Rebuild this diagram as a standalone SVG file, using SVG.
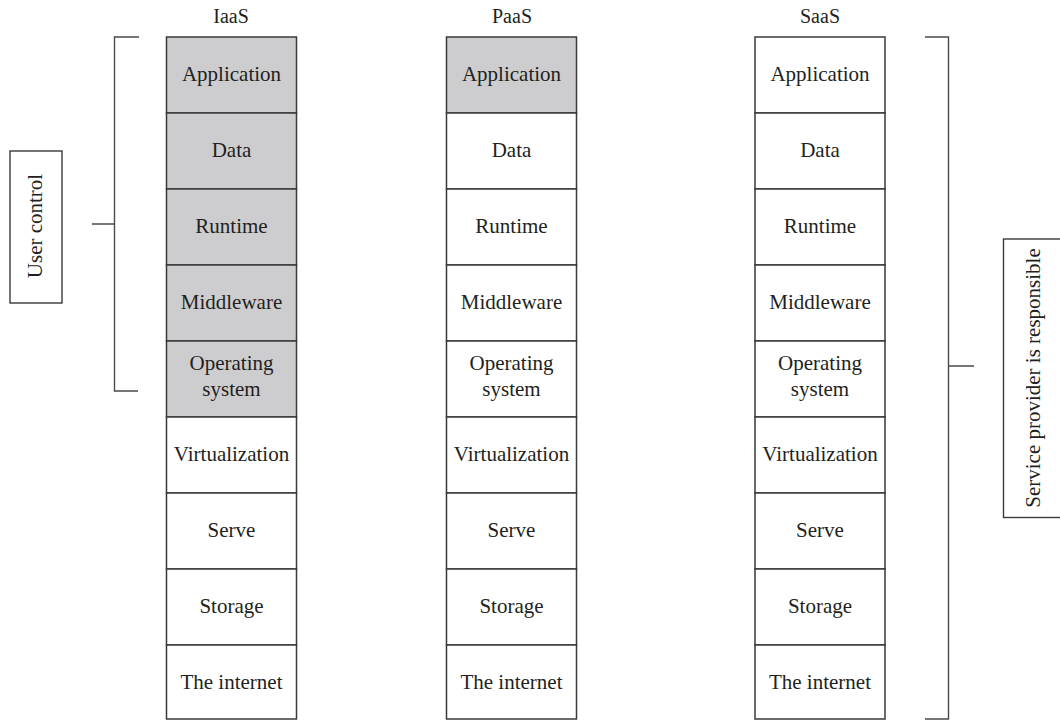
<svg xmlns="http://www.w3.org/2000/svg" width="1060" height="720" viewBox="0 0 1060 720">
<style>
text{font-family:"Liberation Serif","Times New Roman",serif;font-size:21px;fill:#231f20;text-anchor:middle}
.t{font-size:20px}
.c{fill:#ffffff;stroke:#3a3a3a;stroke-width:1.5}
.g{fill:#cdcdcf;stroke:#3a3a3a;stroke-width:1.5}
.br{fill:none;stroke:#4a4a4a;stroke-width:1.4}
.lbl{fill:#ffffff;stroke:#3a3a3a;stroke-width:1.4}
</style>
<rect width="1060" height="720" fill="#ffffff"/>
<g id="titles">
<text class="t" x="231" y="23">IaaS</text>
<text class="t" x="512" y="23">PaaS</text>
<text class="t" x="820" y="23">SaaS</text>
</g>
<g id="iaas">
<g id="iaas-application"><rect class="g" x="166.5" y="37" width="130" height="76"/><text x="231.5" y="81">Application</text></g>
<g id="iaas-data"><rect class="g" x="166.5" y="113" width="130" height="76"/><text x="231.5" y="157">Data</text></g>
<g id="iaas-runtime"><rect class="g" x="166.5" y="189" width="130" height="76"/><text x="231.5" y="233">Runtime</text></g>
<g id="iaas-middleware"><rect class="g" x="166.5" y="265" width="130" height="76"/><text x="231.5" y="309">Middleware</text></g>
<g id="iaas-os"><rect class="g" x="166.5" y="341" width="130" height="76"/><text x="231.5" y="370">Operating</text><text x="231.5" y="396">system</text></g>
<g id="iaas-virtualization"><rect class="c" x="166.5" y="417" width="130" height="76"/><text x="231.5" y="461">Virtualization</text></g>
<g id="iaas-serve"><rect class="c" x="166.5" y="493" width="130" height="76"/><text x="231.5" y="537">Serve</text></g>
<g id="iaas-storage"><rect class="c" x="166.5" y="569" width="130" height="76"/><text x="231.5" y="613">Storage</text></g>
<g id="iaas-internet"><rect class="c" x="166.5" y="645" width="130" height="74"/><text x="231.5" y="689">The internet</text></g>
</g>
<g id="paas">
<g id="paas-application"><rect class="g" x="446.5" y="37" width="130" height="76"/><text x="511.5" y="81">Application</text></g>
<g id="paas-data"><rect class="c" x="446.5" y="113" width="130" height="76"/><text x="511.5" y="157">Data</text></g>
<g id="paas-runtime"><rect class="c" x="446.5" y="189" width="130" height="76"/><text x="511.5" y="233">Runtime</text></g>
<g id="paas-middleware"><rect class="c" x="446.5" y="265" width="130" height="76"/><text x="511.5" y="309">Middleware</text></g>
<g id="paas-os"><rect class="c" x="446.5" y="341" width="130" height="76"/><text x="511.5" y="370">Operating</text><text x="511.5" y="396">system</text></g>
<g id="paas-virtualization"><rect class="c" x="446.5" y="417" width="130" height="76"/><text x="511.5" y="461">Virtualization</text></g>
<g id="paas-serve"><rect class="c" x="446.5" y="493" width="130" height="76"/><text x="511.5" y="537">Serve</text></g>
<g id="paas-storage"><rect class="c" x="446.5" y="569" width="130" height="76"/><text x="511.5" y="613">Storage</text></g>
<g id="paas-internet"><rect class="c" x="446.5" y="645" width="130" height="74"/><text x="511.5" y="689">The internet</text></g>
</g>
<g id="saas">
<g id="saas-application"><rect class="c" x="755" y="37" width="130" height="76"/><text x="820" y="81">Application</text></g>
<g id="saas-data"><rect class="c" x="755" y="113" width="130" height="76"/><text x="820" y="157">Data</text></g>
<g id="saas-runtime"><rect class="c" x="755" y="189" width="130" height="76"/><text x="820" y="233">Runtime</text></g>
<g id="saas-middleware"><rect class="c" x="755" y="265" width="130" height="76"/><text x="820" y="309">Middleware</text></g>
<g id="saas-os"><rect class="c" x="755" y="341" width="130" height="76"/><text x="820" y="370">Operating</text><text x="820" y="396">system</text></g>
<g id="saas-virtualization"><rect class="c" x="755" y="417" width="130" height="76"/><text x="820" y="461">Virtualization</text></g>
<g id="saas-serve"><rect class="c" x="755" y="493" width="130" height="76"/><text x="820" y="537">Serve</text></g>
<g id="saas-storage"><rect class="c" x="755" y="569" width="130" height="76"/><text x="820" y="613">Storage</text></g>
<g id="saas-internet"><rect class="c" x="755" y="645" width="130" height="74"/><text x="820" y="689">The internet</text></g>
</g>
<g id="connectors">
<path class="br" d="M139,37 H114.5 V391 H138 M114.5,224 H92"/>
<path class="br" d="M925,37 H948.5 V719 H925 M948.5,366 H974"/>
</g>
<g id="user-control">
<rect class="lbl" x="10" y="151" width="52" height="152"/>
<text transform="translate(42,226) rotate(-90)">User control</text>
</g>
<g id="service-provider">
<rect class="lbl" x="1003.5" y="239" width="70" height="278.5"/>
<text transform="translate(1040,378) rotate(-90)">Service provider is responsible</text>
</g>
</svg>
